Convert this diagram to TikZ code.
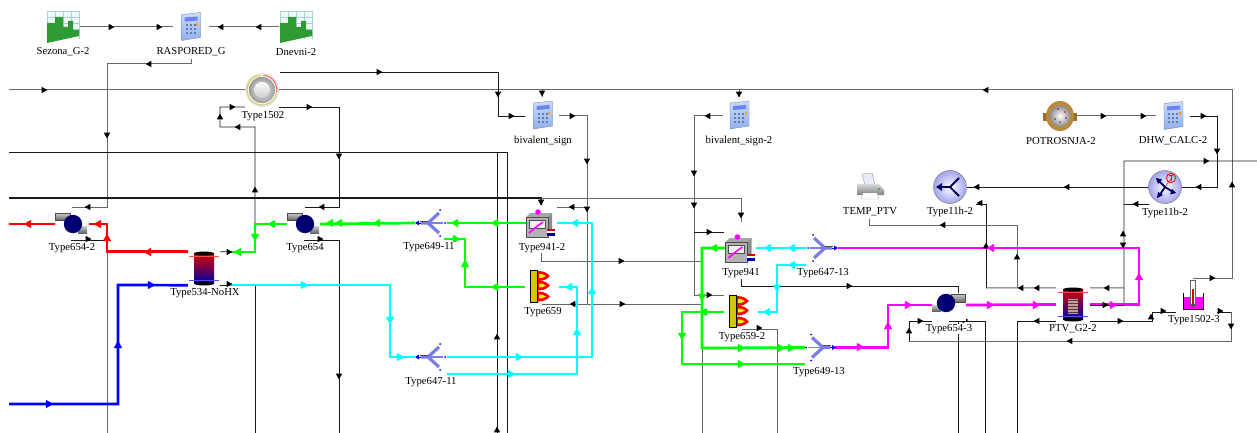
\documentclass[tikz,border=0pt]{standalone}
\usepackage{fontspec}
\setmainfont{Liberation Serif}
\usetikzlibrary{positioning}

\definecolor{ctrlgrey}{HTML}{666666}
\definecolor{keyblue}{HTML}{8FB0EE}
\definecolor{forkblue}{HTML}{7C7CE6}
\definecolor{barsgreen}{HTML}{2F9B34}
\definecolor{brass}{HTML}{B98A3C}
\definecolor{cyan}{HTML}{00FFFF}
\definecolor{magenta}{HTML}{FF00FF}

\tikzset{
    devicebox/.style 2 args={inner sep=0pt, minimum width=#1, minimum height=#2},
    caption/.style={fill=white, inner sep=0.6pt, font=\fontsize{10.7}{12}\selectfont},
    ctrl/.style={draw=black!90, line width=0.75pt},
    ctrlgray/.style={draw=ctrlgrey, line width=1pt},
    pipe/.style={line width=2.7pt},
    calcpic/.pic={
        \shade[top color=keyblue!45!white, bottom color=keyblue, draw=keyblue!70!black, line width=0.3pt]
            (-9,-12) -- (10,-14) -- (10,11) -- (-9,14) -- cycle;
        \fill[keyblue!75!blue] (-6,-9) -- (7,-10) -- (7,-6) -- (-6,-5) -- cycle;
        \foreach \kx in {-5,-1,3}
            \foreach \ky in {-2,2,6}
                \fill[keyblue!70!black] (\kx,\ky) rectangle ++(2,2);
        \fill[orange!80] (5.5,-3) rectangle ++(2.4,2.4);
    },
    chartpic/.pic={
        \fill[teal!6] (-16,-16) -- (16,-16) -- (16,9) -- (-16,16) -- cycle;
        \foreach \gx in {-16,-8,0,8,16}
            \draw[teal!35, line width=0.5pt] (\gx,-16) -- (\gx,12);
        \foreach \gy in {-16,-10,-4,2}
            \draw[teal!35, line width=0.5pt] (-16,\gy) -- (16,\gy);
        \fill[barsgreen] (-16,-4) -- (-8,-4) -- (-8,-10) -- (0,-10) -- (0,0) -- (5,0) -- (5,-6) -- (10,-6)
            -- (10,3) -- (16,3) -- (16,9) -- (-16,16) -- cycle;
    },
    dialpic/.pic={
        \fill[white] (0,0) circle (17);
        \draw[black!15!white, line width=0.6pt] (0,0) circle (16.5);
        \draw[yellow!60!gray, line width=1.3pt] (165:15) arc[start angle=165, end angle=265, radius=15];
        \draw[red!55!white, line width=1.3pt] (275:15) arc[start angle=275, end angle=370, radius=15];
        \draw[olive!40!white, line width=1.3pt] (10:15) arc[start angle=10, end angle=165, radius=15];
        \shade[outer color=black!40, inner color=white] (0,0) circle (13.2);
        \shade[top color=white, bottom color=black!20, draw=black!35, line width=0.4pt] (0,0) circle (8.5);
    },
    pumpleftpic/.pic={
        \fill[white] (-17,-12) rectangle (16,12);
        \shade[top color=black!20, bottom color=black!60, draw=black!70, line width=0.4pt] (-17,-11) rectangle (-2,-4);
        \shade[top color=black!20, bottom color=black!60] (6,2) rectangle (15,9);
        \fill[blue!45!black] (1,0) circle (9.2);
    },
    pumprightpic/.pic={
        \fill[white] (-17,-12) rectangle (17,16);
        \shade[top color=black!20, bottom color=black!60, draw=black!70, line width=0.4pt] (2,-11) rectangle (16,-3);
        \shade[top color=black!20, bottom color=black!60] (-17,0) rectangle (-8,6);
        \fill[blue!45!black] (-3,-2) circle (9.2);
    },
    tankpic/.pic={
        \shade[top color=red!85!black, bottom color=blue!65!black] (-10,-15) rectangle (10,15);
        \fill[black] (0,-15) ellipse (10 and 2);
        \fill[black] (0,15) ellipse (10 and 2);
        \draw[red!70!white, line width=0.7pt] (-15,-12) -- (15,-12);
        \draw[blue!70!white, line width=0.7pt] (-15,12) -- (15,12);
    },
    coilpic/.pic={
        \fill[pink!80!black] (-5,-6) rectangle (5,9);
        \foreach \cy in {-4,-1,2,5,8}
            \draw[black!75, line width=0.6pt] (-5,\cy) -- (5,\cy);
    },
    forkpic/.pic={
        \draw[forkblue, line width=1.2pt] (-2,0) -- (12,0);
        \draw[forkblue, line width=3.2pt] (-10,0) -- (-3,0) -- (8,-10);
        \draw[forkblue, line width=3.2pt] (-3,0) -- (8,10);
        \draw[black!70, line width=0.6pt] (-11,-1.8) -- (-3,-1.8);
        \fill[blue] (9,-13) circle (1) (9,13) circle (1) (14,0) circle (1);
        \fill[blue] (-12,-2.5) -- (-16,0) -- (-12,2.5) -- cycle;
        \draw[blue, line width=1pt] (-12,0) -- (-10,0);
    },
    cubepic/.pic={
        \fill[black!35] (-13,-8) -- (-9,-12) -- (13,-12) -- (9,-8) -- cycle;
        \fill[black!45] (9,-8) -- (13,-12) -- (13,8) -- (9,12) -- cycle;
        \fill[black!30, draw=black!70, line width=0.4pt] (-13,-8) rectangle (9,12);
        \fill[black!6, draw=black!70, line width=0.5pt] (-10,-5) rectangle (6,3);
        \draw[magenta, line width=1.6pt] (-10,8) -- (-3,2) -- (4,-3);
        \fill[magenta] (-1,-13) circle (2.8);
        \fill[red!80!black] (8,4) rectangle (16,6.4);
        \fill[white] (8,6.4) rectangle (16,8.4);
        \fill[blue!60!black] (8,8.4) rectangle (16,11);
    },
    heaterpic/.pic={
        \fill[yellow!60!olive, draw=black, line width=0.5pt] (-12,-17) rectangle (-5,15);
        \foreach \fy in {-11,-1.5,9.5} {
            \fill[red] (-4,\fy-5) .. controls (3,\fy-5) and (6,\fy-2) .. (8,\fy)
                .. controls (6,\fy+2) and (3,\fy+5) .. (-4,\fy+5) -- cycle;
            \fill[yellow] (-3,\fy-2) .. controls (0,\fy-2) .. (4,\fy) .. controls (0,\fy+2) .. (-3,\fy+2) -- cycle;
        }
    },
    splitpic/.pic={
        \shade[inner color=white, outer color=forkblue!70, draw=black!50, line width=0.5pt] (0,0) circle (16.5);
        \draw[blue!40!black, line width=1.8pt] (9,-9) -- (0,0) -- (9,9);
        \draw[blue!40!black, line width=1.8pt] (0,0) -- (-12,0);
        \fill[blue!40!black] (-14,0) -- (-8,-4) -- (-8,4) -- cycle;
    },
    teepic/.pic={
        \shade[inner color=white, outer color=forkblue!70, draw=black!50, line width=0.5pt] (0,0) circle (16.5);
        \draw[red, line width=0.5pt] (0,0) -- (6,-8);
        \draw[blue!40!black, line width=1.8pt] (-8,-8) -- (0,0) -- (8,5);
        \draw[blue!40!black, line width=1.8pt] (0,0) -- (-6,9);
        \fill[blue!40!black] (-9,-9) -- (-3,-7.5) -- (-7,-3) -- cycle;
        \fill[blue!40!black] (-8,11) -- (-7,5) -- (-2,8) -- cycle;
        \fill[blue!40!black] (11,6) -- (5,7.5) -- (7,2) -- cycle;
        \draw[red, line width=0.8pt] (6,-9) circle (4.6);
        \draw[red, line width=1pt] (3.8,-11.5) -- (8.2,-11.5) (6,-11.5) -- (6,-6.5);
    },
    printerpic/.pic={
        \fill[blue!8, draw=black!40, line width=0.4pt] (-8,-13) -- (2,-14) -- (5,-2) -- (-5,-2) -- cycle;
        \shade[top color=black!15, bottom color=black!50] (-13,-3) -- (9,-3) -- (14,3) -- (14,8) -- (-13,8) -- cycle;
        \fill[white, draw=black!40, line width=0.3pt] (-7,6) -- (7,6) -- (9,12) -- (-9,12) -- cycle;
        \fill[green!60!black] (9,2) circle (0.8);
    },
    meterpic/.pic={
        \fill[brass!80!black] (-17,-3) rectangle (-10,5);
        \fill[brass!80!black] (10,-3) rectangle (17,5);
        \fill[brass] (0,0) ellipse (14 and 15);
        \shade[inner color=white, outer color=black!45] (0,0) circle (10.5);
        \foreach \dx/\dy in {-2/-7,5/-4,6/2,-5/3,0/6}
            \fill[red!70!black] (\dx,\dy) circle (0.9);
    },
    beakerpic/.pic={
        \fill[magenta] (-10,2) rectangle (10,14);
        \draw[black, line width=1pt] (-10,-2) -- (-10,14) -- (10,14) -- (10,-2);
        \fill[white, draw=black!60, line width=0.5pt] (-2.5,-15) rectangle (2.5,10);
        \fill[red!85!black] (-1,-6) rectangle (1,10);
        \fill[black!70] (0,10) circle (2);
    },
}

% arrow heads sitting on the wires: x/y/angle
\newcommand{\tipsat}[3]{%
    \foreach \ax/\ay/\ar in {#3}
        \fill[#1, shift={(\ax,\ay)}, rotate=\ar] (#2,0) -- (-#2*0.7,#2*0.95) -- (-#2*0.7,-#2*0.95) -- cycle;
}

\begin{document}
\begin{tikzpicture}[x=1pt, y=-1pt]
    \useasboundingbox (0,0) rectangle (1257,433);

    % units
    \node[devicebox={32}{34}] (sezona) at (63,27) {};
    \node[devicebox={35}{64}] (raspored) at (191,27) {};
    \node[devicebox={34}{34}] (dnevni) at (296,27) {};
    \node[devicebox={34}{34}] (dial) at (262,90) {};
    \node[devicebox={33}{20}] (pumpA) at (72,224) {};
    \node[devicebox={32}{20}] (pumpB) at (304,224) {};
    \node[devicebox={33}{20}] (pumpC) at (949,305) {};
    \node[devicebox={32}{33}] (tankA) at (204,268.5) {};
    \node[devicebox={34}{33}] (tankB) at (1073,304.5) {};
    \node[devicebox={32}{20}] (forkA) at (431,223) {};
    \node[devicebox={32}{20}] (forkB) at (431,357) {};
    \node[devicebox={32}{20}] (forkC) at (822,248) {};
    \node[devicebox={30}{20}] (forkD) at (820,347.5) {};
    \node[devicebox={31}{36}] (cubeA) at (541.5,223) {};
    \node[devicebox={30}{52}] (cubeB) at (741,248) {};
    \node[devicebox={33}{34}] (heaterA) at (542,287) {};
    \node[devicebox={34}{34}] (heaterB) at (741,312) {};
    \node[devicebox={34}{38}] (signA) at (542,116) {};
    \node[devicebox={32}{38}] (signB) at (739,116) {};
    \node[devicebox={34}{30}] (potrosnja) at (1060,116) {};
    \node[devicebox={34}{30}] (dhw) at (1173,116) {};
    \node[devicebox={34}{34}] (splitH) at (950,187) {};
    \node[devicebox={34}{34}] (teeB) at (1165,187) {};
    \node[devicebox={28}{28}] (printer) at (870,187) {};
    \node[devicebox={34}{34}] (beaker) at (1193,295) {};

    % free ends and ports
    \coordinate (feedA) at (9,90);
    \coordinate (feedB) at (9,152);
    \coordinate (feedC) at (9,198);
    \coordinate (feedRed) at (9,224);
    \coordinate (feedBlue) at (9,404);
    \coordinate (feedD) at (1257,161);
    \coordinate (dialTop) at (280,72);
    \coordinate (dialLeft) at (245,107);
    \coordinate (dialRight) at (279,107);
    \coordinate (sensorA) at (72,207);
    \coordinate (sensorB) at (305,207);
    \coordinate (ctlA) at (71,240);
    \coordinate (ctlB) at (304,240);
    \coordinate (cubeAin) at (557,207);
    \coordinate (cubeAout) at (541,253);
    \coordinate (cubeBout) at (741,279);
    \coordinate (heaterAout) at (542,304);
    \coordinate (heaterBin) at (724,295);
    \coordinate (heaterBout) at (742,329);
    \coordinate (cubeBin) at (724,232);
    \coordinate (forkAlow) at (444,239);
    \coordinate (forkBlow) at (447,374);
    \coordinate (forkClow) at (806,265);
    \coordinate (forkDlow) at (805,364);
    \coordinate (pumpCleft) at (932,321);
    \coordinate (pumpCright) at (949,321);
    \coordinate (beakerTop) at (1193,278);
    \coordinate (beakerLeft) at (1176,312);
    \coordinate (beakerRight) at (1217,312);
    \coordinate (printerIn) at (869,219);
    \coordinate (splitIn) at (976,204);
    \coordinate (teeIn) at (1149,204);

    % control wires
    \draw[ctrlgray] (sezona.east) -- (raspored.west);
    \draw[ctrlgray] (dnevni.west) -- (raspored.east);
    \draw[ctrlgray] (raspored.south) |- (107,64) |- (sensorA);
    \draw[ctrlgray] (feedA) -- (dial.west);
    \draw[ctrlgray] (beakerTop) -| (1232,90) -- (dial.east);
    \draw[ctrl] (dialTop) -| (498,116) -- (signA.west);
    \draw[ctrlgray] (signA.north |- dial.east) -- (signA.north);
    \draw[ctrlgray] (signB.north |- dial.east) -- (signB.north);
    \draw[ctrl] (feedB) -| (497,433);
    \draw[ctrl] (feedB) -| (507,433);
    \draw[ctrl] (dialLeft) -| (220,127) -| (255,252) -- (tankA.north east);
    \draw[ctrl] (dialRight) -| (339,207) -- (sensorB);
    \draw[ctrl] (ctlA) -- (107,240);
    \draw[ctrlgray] (107,240) -- (107,433);
    \draw[ctrl] (ctlB) -| (339,433);
    \draw[ctrl] (tankA.south east) -| (255,433);
    \draw[ctrl, line width=1.6pt] (feedC) -- (541,198) -- (cubeA.north);
    \draw[ctrlgray] (541,198) -| (cubeB.north);
    \draw[ctrlgray] (signA.east) -| (heaterAout -| 587,0) -- (heaterAout);
    \draw[ctrlgray] (cubeAin) -- (587,207);
    \draw[ctrlgray] (587,304) -- (702,304);
    \draw[ctrlgray] (cubeAout) |- (702,261);
    \draw[ctrlgray] (signB.west) -| (694,295) -- (heaterBin);
    \draw[ctrl] (694,232) -- (cubeBin);
    \draw[ctrlgray] (702,348) -- (702,433);
    \draw[ctrlgray] (heaterBout) -| (777,433);
    \draw[ctrl] (cubeBout) |- (958,286) -- (958,433);
    \draw[ctrlgray] (potrosnja.east) -- (dhw.west);
    \draw[ctrl] (dhw.east) -| (1217,187) -- (teeB.east);
    \draw[ctrl] (teeB.west) -- (splitH.east);
    \draw[ctrl] (feedD) -| (1124,305) -- (tankB.east);
    \draw[ctrlgray] (tankB.north east) -- (1124,288);
    \draw[ctrl] (teeIn) -- (1124,204);
    \draw[ctrl] (splitIn) -| (986,288);
    \draw[ctrlgray] (986,288) -- (tankB.north west);
    \draw[ctrlgray] (printerIn) |- (1017,225) -- (1017,288);
    \draw[ctrl] (tankB.south west) -| (1017,433);
    \draw[ctrl] (tankB.south east) -| (1152,312) -- (beakerLeft);
    \draw[ctrl] (pumpCright) -| (985,433);
    \draw[ctrl] (pumpCleft) -| (909,341);
    \draw[ctrlgray] (909,341) -| (1231,312);
    \draw[ctrl] (1231,312) -- (beakerRight);

    % pipes
    \draw[pipe, red] (tankA.north west) -| (107,224) -- (pumpA.east);
    \draw[pipe, red] (pumpA.west) -- (feedRed);
    \draw[pipe, blue] (feedBlue) -| (118,285) -- (tankA.south west);
    \draw[pipe, green] (230,252) -| (255,224) -- (pumpB.west);
    \draw[pipe, green] (pumpB.east) -- (forkA.west);
    \draw[pipe, green] (forkA.east) -- (cubeA.west);
    \draw[pipe, green] (heaterA.west) -| (465,239) -- (forkAlow);
    \draw[pipe, cyan] (230,285) -| (390,357) -- (forkB.west);
    \draw[pipe, cyan] (forkB.east) -| (592,223) -- (cubeA.east);
    \draw[pipe, cyan] (forkBlow) -| (577,287) -- (heaterA.east);
    \draw[pipe, green] (cubeB.west) -| (702,348) -- (forkD.west);
    \draw[pipe, green] (heaterB.west) -| (682,364) -- (forkDlow);
    \draw[pipe, cyan] (forkC.west) -- (cubeB.east);
    \draw[pipe, cyan] (forkClow) -| (777,312) -- (heaterB.east);
    \draw[pipe, magenta] (tankB.east) -| (1139,248) -- (forkC.east);
    \draw[pipe, magenta] (forkD.east) -| (888,305) -- (pumpC.west);
    \draw[pipe, magenta] (pumpC.east) -- (tankB.west);
    \draw[ctrl] (1090,305) -- (1124,305);

    % arrow heads
    \tipsat{black}{3.4}{111/27/0, 159/27/0, 259/27/180, 221/27/180, 149/64/180, 107/135/270, 88/207/180,
        44/90/0, 379/72/0, 986/90/180, 1232/185/90, 1212/278/0, 232/107/0, 220/117/90, 238/127/180,
        255/190/90, 309/107/0, 339/156/270, 322/207/180, 88/239/0, 320/239/0, 339/376/270, 229/252/0, 229/284/0,
        498/94/270, 511/116/0, 542/93/270, 572/116/0, 587/161/270, 587/209/270, 572/207/180, 541/202/270,
        573/304/180, 622/304/0, 621/261/0, 497/337/90, 497/430/90, 739/94/270, 708/116/180, 694/173/270,
        694/205/270, 709/232/0, 709/295/0, 741/215/270, 849/286/0, 759/328/0, 1103/116/0, 1143/116/0,
        1203/116/0, 1217/151/270, 1199/187/180, 1067/187/180, 977/187/180, 1206/161/0, 1123/234/90,
        1123/245/270, 1136/204/180, 980/203/180, 943/225/180, 986/246/90, 1017/257/90, 1021/288/180,
        1037/288/180, 1107/288/180, 1105/305/0, 920/321/0, 909/331/90, 965/320/0, 1070/341/180,
        1231/326/270, 1220/311/0, 1037/321/180, 1120/321/0, 1151/317/90, 1163/311/0}
    \tipsat{red}{4.4}{28/224/180, 98/224/180, 148/252/180, 107/238/90}
    \tipsat{blue}{4.4}{49/404/0, 118/345/90, 151/285/0}
    \tipsat{green}{4.4}{272/224/180, 255/237/270, 238/252/180, 377/223/180, 339/223/180, 330/223/180,
        455/223/180, 495/223/180, 456/239/0, 465/264/90, 495/287/180, 714/248/180, 702/297/270,
        704/312/180, 682/336/270, 741/348/0, 781/348/0, 791/348/0, 741/364/0}
    \tipsat{cyan}{4.4}{304/285/0, 390/320/270, 400/357/0, 519/357/0, 592/291/90, 575/223/180, 511/374/0,
        577/332/90, 569/287/180, 792/248/180, 768/248/180, 792/265/180, 777/288/270, 767/312/180}
    \tipsat{magenta}{4.4}{991/248/180, 1139/277/90, 1113/305/0, 860/347/0, 888/326/90, 908/305/0,
        990/305/0, 1036/305/0}

    % icons
    \pic at (sezona) {chartpic};
    \pic at (dnevni) {chartpic};
    \pic at (190.5,26.5) {calcpic};
    \pic at (542.5,115) {calcpic};
    \pic at (739,115) {calcpic};
    \pic at (1173,115.5) {calcpic};
    \pic at (dial) {dialpic};
    \pic at (pumpA) {pumpleftpic};
    \pic at (pumpB) {pumpleftpic};
    \pic at (pumpC) {pumprightpic};
    \pic at (tankA) {tankpic};
    \pic at (tankB) {tankpic};
    \pic at (tankB) {coilpic};
    \pic at (forkA) {forkpic};
    \pic at (forkB) {forkpic};
    \pic[xscale=-1] at (forkC) {forkpic};
    \pic[xscale=-1] at (forkD) {forkpic};
    \pic at (539,225) {cubepic};
    \pic at (738.5,250) {cubepic};
    \pic at (heaterA) {heaterpic};
    \pic at (heaterB) {heaterpic};
    \pic at (splitH) {splitpic};
    \pic at (teeB) {teepic};
    \pic at (printer) {printerpic};
    \pic at (potrosnja) {meterpic};
    \pic at (beaker) {beakerpic};

    % captions
    \node[caption] (sezonaLabel) at (63,52) {Sezona\_G-2};
    \node[caption] (rasporedLabel) at (191,52) {RASPORED\_G};
    \node[caption] (dnevniLabel) at (296,52) {Dnevni-2};
    \node[caption] (dialLabel) at (263,116) {Type1502};
    \node[caption] (pumpALabel) at (72,248) {Type654-2};
    \node[caption] (pumpBLabel) at (305,248) {Type654};
    \node[caption] (tankALabel) at (205,293) {Type534-NoHX};
    \node[caption] (forkALabel) at (429,247) {Type649-11};
    \node[caption] (forkBLabel) at (431,382) {Type647-11};
    \node[caption] (cubeALabel) at (542,248) {Type941-2};
    \node[caption] (heaterALabel) at (543,312) {Type659};
    \node[caption] (signALabel) at (543,141) {bivalent\_sign};
    \node[caption] (signBLabel) at (739,141) {bivalent\_sign-2};
    \node[caption] (cubeBLabel) at (741,273) {Type941};
    \node[caption] (forkCLabel) at (823,273) {Type647-13};
    \node[caption] (heaterBLabel) at (742,337) {Type659-2};
    \node[caption] (forkDLabel) at (819,372) {Type649-13};
    \node[caption] (potrosnjaLabel) at (1061,141) {POTROSNJA-2};
    \node[caption] (dhwLabel) at (1173,141) {DHW\_CALC-2};
    \node[caption] (printerLabel) at (870,212) {TEMP\_PTV};
    \node[caption] (splitHLabel) at (950,212) {Type11h-2};
    \node[caption] (teeBLabel) at (1165,212.5) {Type11b-2};
    \node[caption] (pumpCLabel) at (949,329) {Type654-3};
    \node[caption] (tankBLabel) at (1073,329) {PTV\_G2-2};
    \node[caption] (beakerLabel) at (1194,320) {Type1502-3};
\end{tikzpicture}
\end{document}
